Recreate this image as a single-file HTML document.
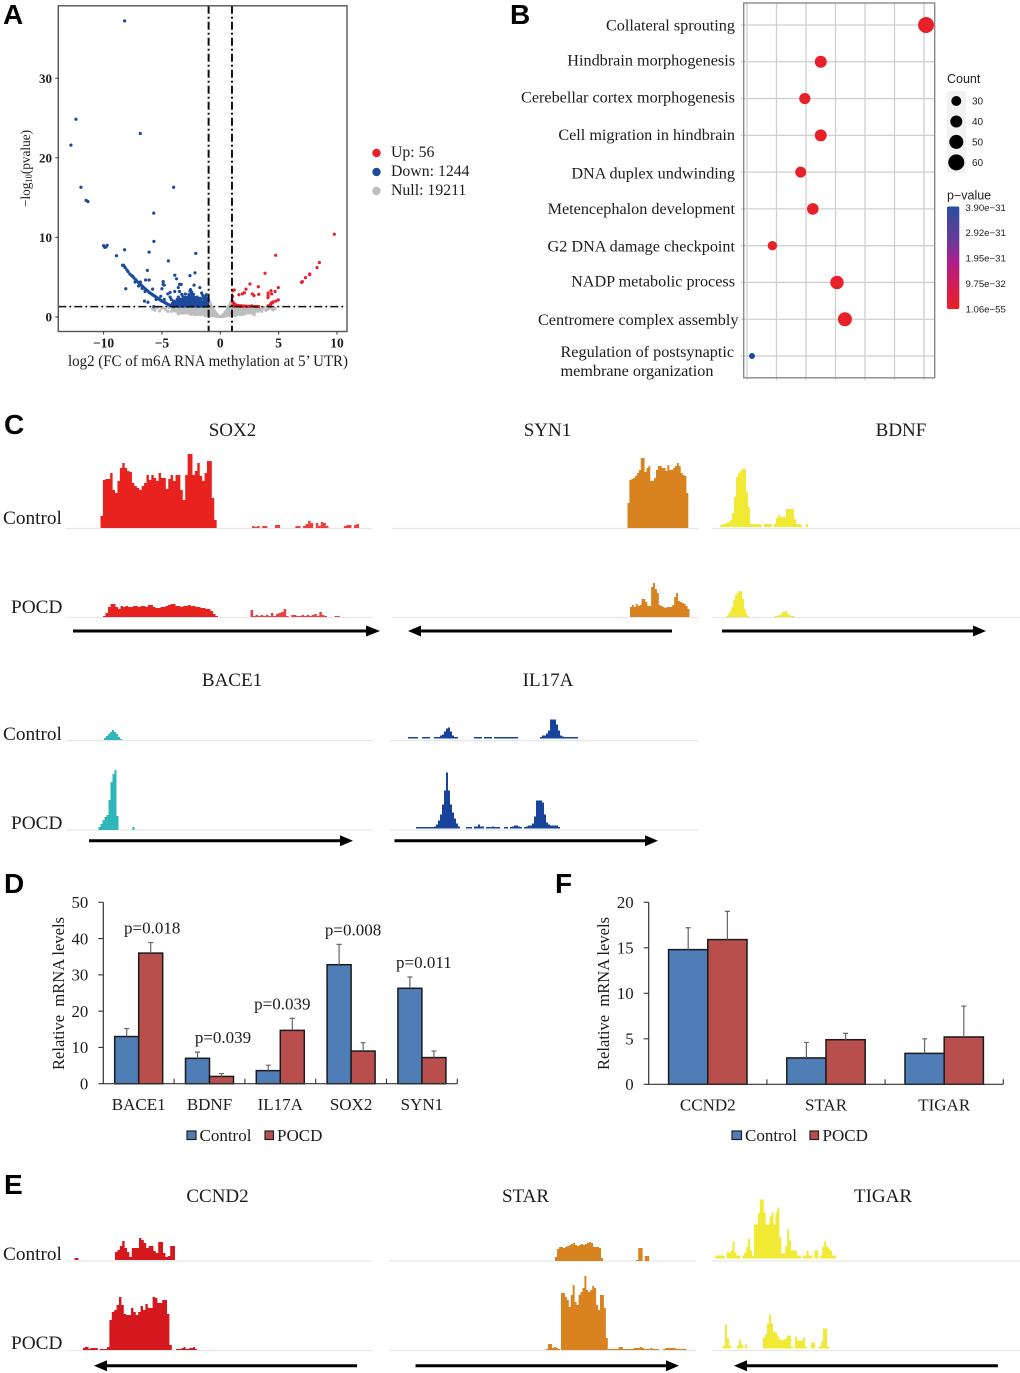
<!DOCTYPE html>
<html lang="en">
<head>
<meta charset="utf-8">
<title>m6A methylation figure panels</title>
<style>
html,body{margin:0;padding:0;background:#fff;}
svg{display:block;filter:blur(0.3px);}
text{font-family:"Liberation Serif",serif;fill:#1c1c1c;}
.letter{font-family:"Liberation Sans",sans-serif;font-weight:700;font-size:28px;fill:#000;}
.sans{font-family:"Liberation Sans",sans-serif;fill:#222;}
.gene{font-size:19px;text-anchor:middle;}
.cond{font-size:19.3px;}
.term{font-size:16.2px;}
.end{text-anchor:end;}
.leg{font-size:15.8px;}
</style>
</head>
<body>
<svg id="fig" width="1020" height="1373" viewBox="0 0 1020 1373" xmlns="http://www.w3.org/2000/svg">
<rect width="1020" height="1373" fill="#fff"/>

<text class="letter" x="3" y="24">A</text>
<text class="letter" x="510" y="24">B</text>
<text class="letter" x="4" y="434">C</text>
<text class="letter" x="4" y="893">D</text>
<text class="letter" x="555" y="893">F</text>
<text class="letter" x="4" y="1194">E</text>

<!-- Panel A -->
<g id="volcano"></g>
<text x="208" y="366" font-size="15.5" text-anchor="middle" textLength="280" lengthAdjust="spacingAndGlyphs">log2 (FC of m6A RNA methylation at 5’ UTR)</text>
<text transform="translate(30,207) rotate(-90)" font-size="14" textLength="77" lengthAdjust="spacingAndGlyphs">−log<tspan font-size="9" dy="2">10</tspan><tspan dy="-2">(pvalue)</tspan></text>
<g>
<circle cx="376.5" cy="153" r="4.2" fill="#e8202a"/>
<circle cx="376.5" cy="172" r="4.2" fill="#1c4a9c"/>
<circle cx="376.5" cy="191" r="4.2" fill="#bdbdbd"/>
<text class="leg" x="391" y="157">Up: 56</text>
<text class="leg" x="391" y="176">Down: 1244</text>
<text class="leg" x="391" y="195">Null: 19211</text>
</g>

<!-- Panel B -->
<g id="dotplot"></g>
<g>
<text class="term end" x="735" y="30.7">Collateral sprouting</text>
<text class="term end" x="735" y="65.7">Hindbrain morphogenesis</text>
<text class="term end" x="735" y="102.7">Cerebellar cortex morphogenesis</text>
<text class="term end" x="735" y="140">Cell migration in hindbrain</text>
<text class="term end" x="735" y="178.7">DNA duplex undwinding</text>
<text class="term end" x="735" y="214">Metencephalon development</text>
<text class="term end" x="735" y="251.7">G2 DNA damage checkpoint</text>
<text class="term end" x="735" y="286.7">NADP metabolic process</text>
<text class="term end" x="738.5" y="325">Centromere complex assembly</text>
<text class="term" x="560.5" y="357">Regulation of postsynaptic</text>
<text class="term" x="560.5" y="376">membrane organization</text>
</g>
<g>
<text class="sans" x="947" y="83" font-size="12.5">Count</text>
<rect x="947" y="91" width="19" height="82" fill="#f2f2f2"/>
</g>
<g id="countLegend"></g>
<g>
<defs><linearGradient id="pgrad" x1="0" y1="0" x2="0" y2="1"><stop offset="0" stop-color="#27509f"/><stop offset="0.33" stop-color="#6a3a97"/><stop offset="0.55" stop-color="#b01c8c"/><stop offset="0.8" stop-color="#d81e4c"/><stop offset="1" stop-color="#ec2025"/></linearGradient></defs>
<text class="sans" x="947" y="199.5" font-size="12.5">p−value</text>
<rect x="947" y="206.5" width="12.3" height="102.5" rx="1.5" fill="url(#pgrad)"/>
</g>
<g id="colorLegend"></g>

<!-- Gene titles and condition labels -->
<g>
<text class="gene" x="232.5" y="436">SOX2</text>
<text class="gene" x="547.5" y="436">SYN1</text>
<text class="gene" x="901" y="436">BDNF</text>
<text class="gene" x="232" y="686">BACE1</text>
<text class="gene" x="548" y="686">IL17A</text>
<text class="gene" x="217.5" y="1202">CCND2</text>
<text class="gene" x="525.5" y="1202">STAR</text>
<text class="gene" x="883" y="1202">TIGAR</text>
</g>
<g>
<text class="cond" x="3" y="524">Control</text>
<text class="cond" x="11" y="613">POCD</text>
<text class="cond" x="3" y="740">Control</text>
<text class="cond" x="11" y="829">POCD</text>
<text class="cond" x="3" y="1260">Control</text>
<text class="cond" x="11" y="1349">POCD</text>
</g>

<!-- Track baselines -->
<g stroke="#e6e6e6" stroke-width="1.2">
<path d="M66 528.5H372M392 528.5H699M712 528.5H1020M66 617.5H372M392 617.5H699M712 617.5H1020" fill="none"/>
<path d="M66 740.5H373M390 740.5H698M66 830H373M390 830H698" fill="none"/>
<path d="M66 1261H372M389 1261H696M712 1261H1020M66 1350.5H372M389 1350.5H696M712 1350.5H1020" fill="none"/>
</g>
<g id="tracks"></g>

<!-- Gene direction arrows -->
<g fill="#000">
<path d="M73 629.5H366V625.5L380 631L366 636.5V632.5H73Z"/>
<path d="M672 629.5H421V625.5L408 631L421 636.5V632.5H672Z"/>
<path d="M722 629.5H973V625.5L986 631L973 636.5V632.5H722Z"/>
<path d="M89 839.2H340V835.2L353 840.7L340 846.2V842.2H89Z"/>
<path d="M394.5 839.2H645V835.2L658 840.7L645 846.2V842.2H394.5Z"/>
<path d="M357 1364.2H107V1360.2L94 1365.7L107 1371.2V1367.2H357Z"/>
<path d="M415.5 1364.2H666V1360.2L679 1365.7L666 1371.2V1367.2H415.5Z"/>
<path d="M998 1364.2H747V1360.2L734 1365.7L747 1371.2V1367.2H998Z"/>
</g>

<!-- Panels D and F -->
<g id="barsD"></g>
<text transform="translate(64,1070) rotate(-90)" font-size="16.5" textLength="153" lengthAdjust="spacingAndGlyphs" xml:space="preserve">Relative  mRNA levels</text>
<g>
<rect x="187" y="1131" width="9" height="8.5" fill="#4f7db5" stroke="#222" stroke-width="1.2"/>
<text x="199.5" y="1141" font-size="17">Control</text>
<rect x="265" y="1131" width="8.5" height="8.5" fill="#b94f4d" stroke="#222" stroke-width="1.2"/>
<text x="277" y="1141" font-size="17">POCD</text>
</g>
<g id="barsF"></g>
<text transform="translate(609,1070) rotate(-90)" font-size="16.5" textLength="153" lengthAdjust="spacingAndGlyphs" xml:space="preserve">Relative  mRNA levels</text>
<g>
<rect x="732" y="1131" width="9.5" height="8.5" fill="#4f7db5" stroke="#222" stroke-width="1.2"/>
<text x="745" y="1141" font-size="17">Control</text>
<rect x="810" y="1131" width="8.5" height="8.5" fill="#b94f4d" stroke="#222" stroke-width="1.2"/>
<text x="822.5" y="1141" font-size="17">POCD</text>
</g>
</svg>

<script>
/* ---------- Panel A data: [log2FC, -log10(p)] ---------- */
const volcanoXTicks = [-10, -5, 0, 5, 10];
const volcanoYTicks = [0, 10, 20, 30];
const volcanoFcCutoff = 1;
const volcanoPCutoff = 1.3;

const downOutliers = [[-8.2,37.2],[-12.37,24.85],[-6.86,23.05],[-12.8,21.6],[-11.94,16.3],[-4,16.3],[-11.5,14.65],[-11.34,14.5],[-5.7,13.05],[-5.69,9.5],[-10,8.95],[-9.8,8.8],[-9.9,8.75],[-9.7,9],[-8.2,8.45],[-6.1,8.15],[-2.1,8],[-8.9,7.7],[-4.45,7.05],[-8.37,6.5],[-8.25,6.4],[-6.25,5.85],[-2.17,5.55],[-3.9,5.25],[-2.6,5.2],[-3.75,4.8],[-6.4,4.65],[-6.1,4.65],[-4.9,4.45],[-8.1,3.55],[-4.9,4.1],[-4.8,4.0],[-3.5,4.1],[-3.35,4.1],[-2.25,4],[-1.75,3.7],[-3.6,3.7],[-5.8,3.5],[-5,3.55],[-2.55,3.45],[-6.5,2],[-6.2,1.85],[-5.7,1.3]];
const downCurve = [[-8.3,6.5],[-8.15,6.2],[-8,5.9],[-7.9,5.7],[-7.75,5.4],[-7.6,5.2],[-7.5,5.1],[-7.4,4.9],[-7.25,4.7],[-7.15,4.5],[-7,4.3],[-6.9,4.2],[-6.8,4.05],[-6.7,3.9],[-6.6,3.75],[-6.5,3.6],[-6.4,3.5],[-6.3,3.35],[-6.2,3.25],[-6.1,3.1],[-6,3],[-5.9,2.9],[-5.8,2.8],[-5.7,2.7],[-5.6,2.6],[-5.5,2.5],[-5.4,2.4],[-5.3,2.3],[-5.2,2.2],[-5.1,2.1],[-5,2],[-4.9,1.93],[-4.8,1.85],[-4.7,1.77],[-4.6,1.68],[-4.5,1.6],[-4.4,1.52],[-4.3,1.46],[-4.2,1.4],[-4.1,1.35],[-4,1.3],[-7,3.9],[-6.7,3.6],[-6.45,3.2],[-6.85,4.4],[-7.3,4.4]];
const downCluster = [
[-4.0,1.35],[-3.8,1.38],[-3.6,1.33],[-3.4,1.36],[-3.2,1.34],[-3.0,1.38],[-2.8,1.33],[-2.6,1.36],[-2.4,1.34],[-2.2,1.38],[-2.0,1.35],[-1.8,1.33],[-1.6,1.36],[-1.4,1.34],[-1.2,1.37],[-1.05,1.35],
[-3.9,1.62],[-3.7,1.58],[-3.5,1.64],[-3.3,1.6],[-3.1,1.57],[-2.9,1.63],[-2.7,1.6],[-2.5,1.58],[-2.3,1.64],[-2.1,1.6],[-1.9,1.57],[-1.7,1.63],[-1.5,1.6],[-1.3,1.58],[-1.1,1.62],
[-3.8,1.92],[-3.6,1.88],[-3.4,1.94],[-3.2,1.9],[-3.0,1.87],[-2.8,1.93],[-2.6,1.9],[-2.4,1.88],[-2.2,1.94],[-2.0,1.9],[-1.8,1.87],[-1.6,1.93],[-1.4,1.9],[-1.2,1.88],[-1.05,1.92],
[-3.7,2.2],[-3.45,2.25],[-3.25,2.18],[-3.0,2.22],[-2.75,2.2],[-2.55,2.26],[-2.35,2.18],[-2.15,2.22],[-1.9,2.2],[-1.65,2.25],[-1.35,2.18],[-1.15,2.22],
[-3.6,2.5],[-3.2,2.55],[-2.95,2.48],[-2.7,2.52],[-2.45,2.56],[-2.25,2.48],[-2.0,2.5],[-1.3,2.55],
[-3.3,2.85],[-3.0,2.9],[-2.7,2.82],[-2.5,2.88],[-2.3,2.84],
[-3.5,3.2],[-2.6,3.25],[-2.45,3.15],
[-4.5,2.9],[-4.3,2.5],[-4.2,2.2],[-4.8,2.2],[-5.1,2.6],[-4.3,3.1],[-3.9,3.2],[-5.5,2.2],[-4.0,2.0],[-4.1,1.7],[-1.5,2.7],[-1.2,2.8],[-1.6,3.0],
[-3.5,2.05],[-3.1,2.08],[-2.7,2.04],[-2.3,2.06],[-1.75,2.05],[-1.25,2.08],[-3.15,2.38],[-2.85,2.36],[-2.6,2.4],[-2.4,2.35],[-2.05,2.38],[-1.75,2.36],[-1.45,2.4],[-1.1,2.38]
];
const upPoints = [[9.77,10.4],[4.74,7.75],[8.49,6.85],[8.29,6.2],[7.66,5.4],[7.66,5.3],[7.3,4.95],[6.97,4.35],[7.03,4.45],[3.83,5.5],[2.54,4.15],[3.26,3.8],[2.2,3.5],[1.2,3.4],[1.06,3.3],[4.97,3.7],[4.69,3.2],[4.34,3.3],[4.4,2.9],[2.06,3.05],[1.89,2.9],[1.6,2.8],[2.74,2.9],[2.89,2.7],[3.29,2.85],[4.1,3],[4.1,2.65],[4.09,2.45],[4.97,2.15],[4.77,2],[4.54,1.9],[4.4,1.8],[4.31,1.6],[4.1,1.4],[1.06,2.6],[1.15,1.75],[1.25,1.6],[1.35,1.5],[1.5,1.45],[1.65,1.4],[1.8,1.42],[2.0,1.38],[2.2,1.36],[2.5,1.35],[2.7,1.4],[3.1,1.32],[1.1,1.35],[1.4,1.35],[1.7,1.33],[1.95,1.33],[2.35,1.33],[2.9,1.33],[3.3,1.31],[4.3,1.35],[4.45,1.75],[1.05,1.95]];
const nullPoints = [
[-3.85,1.2],[-3.6,1.18],[-3.35,1.22],[-3.1,1.19],[-2.85,1.2],[-2.6,1.17],[-2.35,1.21],[-2.1,1.2],[-1.85,1.18],[-1.6,1.22],[-1.35,1.19],[-1.1,1.2],[1.1,1.2],[1.35,1.18],[1.6,1.22],[1.85,1.19],[2.1,1.2],[2.35,1.17],[2.6,1.21],[2.85,1.2],[3.1,1.18],[3.3,1.22],
[-3.9,0.95],[-3.65,0.92],[-3.4,0.97],[-3.15,0.94],[-2.9,0.95],[-2.65,0.92],[-2.4,0.96],[-2.15,0.94],[-1.9,0.95],[-1.65,0.93],[-1.4,0.96],[-1.15,0.94],[-0.95,0.95],[0.95,0.95],[1.15,0.93],[1.4,0.96],[1.65,0.94],[1.9,0.95],[2.15,0.92],[2.4,0.96],[2.65,0.94],[2.9,0.95],[3.15,0.93],[3.4,0.96],
[-3.75,0.7],[-3.5,0.68],[-3.25,0.72],[-3,0.69],[-2.75,0.7],[-2.5,0.67],[-2.25,0.71],[-2,0.7],[-1.75,0.68],[-1.5,0.72],[-1.25,0.69],[-1,0.7],[-0.8,0.72],[0.8,0.72],[1,0.7],[1.25,0.69],[1.5,0.72],[1.75,0.68],[2,0.7],[2.25,0.71],[2.5,0.67],[2.75,0.7],[3,0.69],[3.25,0.72],
[-3.4,0.5],[-3.15,0.48],[-2.9,0.52],[-2.65,0.49],[-2.4,0.5],[-2.15,0.47],[-1.9,0.51],[-1.65,0.5],[-1.4,0.48],[-1.15,0.52],[-0.95,0.49],[-0.7,0.5],[0.7,0.5],[0.95,0.49],[1.15,0.52],[1.4,0.48],[1.65,0.5],[1.9,0.51],[2.15,0.47],[2.4,0.5],[2.65,0.49],[2.9,0.52],
[-2.5,0.32],[-2.2,0.3],[-1.95,0.33],[-1.7,0.28],[-1.4,0.3],[-1.15,0.32],[-0.9,0.3],[-0.65,0.28],[-0.45,0.3],[0.45,0.3],[0.65,0.28],[0.9,0.3],[1.15,0.32],[1.4,0.3],[1.7,0.28],[1.95,0.33],
[-1.0,2.25],[-0.95,1.95],[-0.9,1.75],[-0.85,1.6],[-0.78,1.4],[-0.72,1.25],[-0.66,1.05],[-0.6,0.95],[-0.5,0.75],[-0.4,0.55],[-0.3,0.35],[-0.2,0.2],[-0.1,0.08],[0,0.03],[0.1,0.08],[0.2,0.2],[0.3,0.35],[0.4,0.55],[0.5,0.75],[0.6,0.95],[0.66,1.05],[0.72,1.25],[0.78,1.4],[0.85,1.6],[0.9,1.75],[0.95,1.95],[1.0,2.25],
[-0.9,1.35],[-0.82,1.2],[-0.75,1.0],[-0.6,0.65],[-0.35,0.2],[-0.18,0.08],[0.18,0.08],[0.35,0.2],[0.6,0.65],[0.75,1.0],[0.82,1.2],[0.9,1.35],
[-5.8,1.0],[-5.6,0.85],[-5.4,1.2],[-5,1.1],[-4.7,0.95],[-4.4,1.2],[-4.2,0.7],[3.6,1],[3.9,0.85],[4.2,1.1],[4.5,0.9],[-3.6,0.4],[2.9,0.3]
];
const nullPointsExtra = [
[-3.7,1.08],[-3.45,1.06],[-3.2,1.1],[-2.95,1.07],[-2.7,1.05],[-2.45,1.09],[-2.2,1.07],[-1.95,1.05],[-1.7,1.09],[-1.45,1.07],[-1.2,1.05],[-0.97,1.08],[0.97,1.08],[1.2,1.05],[1.45,1.07],[1.7,1.09],[1.95,1.05],[2.2,1.07],[2.45,1.09],[2.7,1.05],[2.95,1.07],[3.2,1.1],
[-3.3,0.82],[-3.05,0.84],[-2.8,0.8],[-2.55,0.83],[-2.3,0.81],[-2.05,0.84],[-1.8,0.8],[-1.55,0.83],[-1.3,0.81],[-1.05,0.84],[-0.85,0.82],[0.85,0.82],[1.05,0.84],[1.3,0.81],[1.55,0.83],[1.8,0.8],[2.05,0.84],[2.3,0.81],[2.55,0.83],[2.8,0.8],[3.05,0.84],
[-2.85,0.6],[-2.6,0.58],[-2.35,0.62],[-2.1,0.59],[-1.85,0.6],[-1.6,0.57],[-1.35,0.61],[-1.1,0.6],[-0.85,0.58],[0.85,0.58],[1.1,0.6],[1.35,0.61],[1.6,0.57],[1.85,0.6],[2.1,0.59],[2.35,0.62],[2.6,0.58],
[-2.1,0.41],[-1.85,0.38],[-1.6,0.42],[-1.3,0.4],[-1.05,0.38],[-0.8,0.41],[-0.55,0.4],[0.55,0.4],[0.8,0.41],[1.05,0.38],[1.3,0.4],[1.6,0.42],[1.85,0.38],[2.1,0.41],
[-1.3,0.18],[-1.05,0.2],[-0.8,0.17],[-0.55,0.16],[-0.35,0.1],[-0.2,0.06],[0.2,0.06],[0.35,0.1],[0.55,0.16],[0.8,0.17],[1.05,0.2],[1.3,0.18],
[-0.98,1.55],[-1.02,1.8],[-1.05,1.45],[-0.92,1.15],[0.92,1.15],[1.02,1.8],[1.05,1.45],[0.98,1.55],[-0.5,0.4],[-0.7,0.85],[0.5,0.4],[0.7,0.85],
[-5.2,0.75],[-4.9,1.2],[-4.5,0.7],[-4.1,1.05],[-3.95,0.8],[-5.7,1.2],[3.75,1.2],[4.05,0.95],[3.55,0.72],[4.35,1.2],[4.7,1.05]
];

/* ---------- Panel B data ---------- */
const termRows = ["Collateral sprouting","Hindbrain morphogenesis","Cerebellar cortex morphogenesis","Cell migration in hindbrain","DNA duplex undwinding","Metencephalon development","G2 DNA damage checkpoint","NADP metabolic process","Centromere complex assembly","Regulation of postsynaptic membrane organization"];
const termEnrichment = [6.07, 2.5, 1.96, 2.5, 1.82, 2.23, 0.86, 3.05, 3.32, 0.17];
const termCounts = [60, 40, 36, 40, 35, 38, 27, 47, 50, 10];
const termIsHighP = [false, false, false, false, false, false, false, false, false, true];
const enrichmentGridTicks = [0, 1, 2, 3, 4, 5, 6];
const countLegendValues = [30, 40, 50, 60];
const pLegendLabels = ["3.90e−31", "2.92e−31", "1.95e−31", "9.75e−32", "1.06e−55"];

/* ---------- Coverage track bin heights ---------- */
const sox2Control = [12,48,49,49,55,38,35,47,60,65,60,57,56,45,42,40,38,42,45,53,48,53,50,47,55,50,50,39,49,53,47,53,53,38,28,53,74,74,53,57,65,52,47,55,67,67,30,8];
const sox2ControlTail = [2,1,2,0,2,2,0,0,0,3,3,0,0,0,0,0,0,2,2,0,2,4,7,5,0,5,2,6,5,2,0,0,0,0,0,0,2,3,3,0,3,4];
const sox2Pocd = [1,4,10,13,13,10,8,11,10,11,10,10,11,11,10,11,11,10,12,12,10,9,9,10,10,11,12,13,13,11,11,10,11,11,12,11,11,10,10,9,9,8,8,6,3,1];
const sox2PocdTail = [7,1,2,1,2,1,2,1,4,1,3,4,5,8,1,0,2,2,1,1,2,1,2,1,2,3,1,5,2,1,0,0,0,1,1];
const syn1Control = [25,48,49,50,52,55,58,70,70,56,60,62,47,47,50,58,62,62,60,60,57,63,58,58,60,62,65,62,55,53,52,35];
const syn1Pocd = [10,12,10,13,11,12,18,18,15,11,11,30,34,28,24,12,11,10,9,10,10,10,12,20,24,16,15,14,13,11,8];
const bdnfControl = [2,3,3,4,5,7,14,30,50,54,56,58,58,35,20,3,3,3,3,3,2,0,3,3,3,3,0,3,9,12,10,10,10,18,18,18,18,8,3,3,2,0,0,3];
const bdnfPocd = [1,3,6,10,17,22,24,26,26,18,8,3,1,0,0,0,0,0,0,0,0,0,0,0,0,0,0,1,1,2,2,5,5,6,3,2,1,1];
const bace1Control = [2,4,6,8,10,8,6,3,1];
const bace1Pocd = [3,6,10,13,15,30,48,56,60,14,0,0,0,0,0,0,0,3];
const il17aControl = [0,1.5,1.5,1.5,1.5,1.5,0,0,1.5,1.5,1.5,1.5,0,0,1.5,1.5,1.5,3,4,7,10,11,7,3,1.5,1.5,0,0,0,0,0,0,0,0,1.5,1.5,1.5,1.5,0,1.5,1.5,1.5,1.5,0,1.5,1.5,1.5,1.5,1.5,1.5,1.5,1.5,1.5,1.5,1.5,1.5,0,0,0,0,0,0,0,0,0,0,0,1.5,3,3,5,8,19,19,19,14,8,3,2,1.5,1.5,1.5,1.5,1.5,1.5,1.5];
const il17aPocd = [1.5,1.5,1.5,1.5,1.5,1.5,1.5,1.5,1.5,2,4,8,14,24,38,56,38,24,16,10,5,2,0,0,0,1.5,1.5,1.5,0,2,2,4,2,2,0,1.5,1.5,1.5,2,1.5,1.5,1.5,0,0,1.5,1.5,0,1.5,2,3,3,2,1.5,0,1.5,2,3,3,5,12,28,28,28,26,14,6,4,3,3,3,3,1.5];
const ccnd2Control = [8,10,14,19,12,8,3,12,12,12,22,20,17,12,14,14,9,7,18,18,7,3,4,14,14];
const ccnd2ControlBlip = [2,2];
const ccnd2Pocd = [3,30,38,40,45,53,45,36,35,35,42,38,35,38,44,40,46,42,42,53,52,47,47,50,50,36,5];
const ccnd2PocdLeft = [2,3,3,1,2,2,2,2,0,1,1,1,1];
const ccnd2PocdRight = [1,1,1,2,3,1,1,2,2,3,1];
const starControl = [4,12,14,14,13,14,15,16,17,18,16,15,16,17,16,17,18,19,18,14,14,14,13,3];
const starControlBlip = [1,13,13,0,5,5];
const starPocd = [57,57,53,50,43,55,65,48,45,55,58,62,74,60,58,60,64,62,45,40,55,55,42,12];
const starPocdLeft = [1,6,6,2,3,2,1];
const starPocdTail = [1,1,1,1,1,3,3,1,1,1,1,1,2,2,2,3,2,1,1,1,2,1,1,1,0,0,1,2,2,2,2,2,1,1,1,1,1];
const tigarControl = [3,3,3,3,3,0,6,6,8,17,6,3,3,0,3,6,12,20,8,3,34,34,45,59,59,46,34,34,42,46,34,46,51,21,5,5,12,29,18,8,8,8,3,3,0,3,3,8,3,3,0,8,8,0,3,12,17,12,10,8,3,3];
const tigarPocd = [3,24,10,3,0,0,0,3,9,4,0,4,0,0,0,0,0,0,0,0,11,14,25,34,25,17,16,12,9,8,9,10,13,13,2,0,12,8,8,8,11,2,0,0,6,6,0,0,2,7,20,20,2];

/* ---------- Panel D data ---------- */
const dCategories = ["BACE1","BDNF","IL17A","SOX2","SYN1"];
const dControl = [13, 7, 3.6, 32.8, 26.3];
const dPocd = [36, 2, 14.7, 9, 7.2];
const dControlErr = [2.2, 1.7, 1.5, 5.6, 3.1];
const dPocdErr = [2.9, 0.8, 3.3, 2.3, 1.8];
const dPValues = ["p=0.018","p=0.039","p=0.039","p=0.008","p=0.011"];
const dYTicks = [0, 10, 20, 30, 40, 50];

/* ---------- Panel F data ---------- */
const fCategories = ["CCND2","STAR","TIGAR"];
const fControl = [14.8, 2.9, 3.4];
const fPocd = [15.9, 4.9, 5.2];
const fControlErr = [2.4, 1.7, 1.6];
const fPocdErr = [3.1, 0.7, 3.4];
const fYTicks = [0, 5, 10, 15, 20];

/* ---------- Helpers ---------- */
const NS = "http://www.w3.org/2000/svg";
function mk(tag, attrs, parent, txt) {
  const n = document.createElementNS(NS, tag);
  for (const k in attrs) n.setAttribute(k, attrs[k]);
  if (txt !== undefined) n.textContent = txt;
  parent.appendChild(n);
  return n;
}
function slug(s) { return String(s).toLowerCase().replace(/[^a-z0-9]+/g, '-'); }

/* ---------- Panel A ---------- */
(function () {
  const g = document.getElementById('volcano');
  const sx = v => 220.3 + v * 11.67;
  const sy = v => 317 - v * 7.96;
  const plotL = 58.3, plotR = 347, plotT = 5.8, plotB = 331.5;

  function dots(list, color, r, name) {
    list.forEach(p => {
      const c = mk('circle', {cx: sx(p[0]), cy: sy(p[1]), r: r, fill: color}, g);
      
      
    });
  }
  dots(nullPoints, '#bdbdbd', 1.6, 'null-point');
  dots(nullPointsExtra, '#bdbdbd', 1.6, 'null-point');
  dots(downCluster, '#1c4a9c', 1.6, 'down-point');
  dots(downCurve, '#1c4a9c', 1.6, 'down-point');
  dots(downOutliers, '#1c4a9c', 1.6, 'down-point');
  dots(upPoints, '#e8202a', 1.6, 'up-point');

  [-volcanoFcCutoff, volcanoFcCutoff].forEach(v => {
    const l = mk('line', {x1: sx(v), x2: sx(v), y1: plotT, y2: plotB, stroke: '#111', 'stroke-width': 2, 'stroke-dasharray': '8 3 2 3'}, g);
    
    
  });
  const h = mk('line', {x1: plotL, x2: plotR, y1: sy(volcanoPCutoff), y2: sy(volcanoPCutoff), stroke: '#111', 'stroke-width': 1.5, 'stroke-dasharray': '8 3 2 3'}, g);
  
  

  const box = mk('rect', {x: plotL, y: plotT, width: plotR - plotL, height: plotB - plotT, fill: 'none', stroke: '#555', 'stroke-width': 1.4}, g);
  
  

  volcanoXTicks.forEach(v => {
    const t = mk('line', {x1: sx(v), x2: sx(v), y1: plotB, y2: plotB + 3, stroke: '#333', 'stroke-width': 1}, g);
    
    
    const l = mk('text', {x: sx(v), y: 347.3, 'text-anchor': 'middle', 'font-size': 13.5, 'font-weight': 700}, g, String(v).replace('-', '−'));
    
    
  });
  volcanoYTicks.forEach(v => {
    const t = mk('line', {x1: plotL - 3, x2: plotL, y1: sy(v), y2: sy(v), stroke: '#333', 'stroke-width': 1}, g);
    
    
    const l = mk('text', {x: 52, y: sy(v) + 4.6, 'text-anchor': 'end', 'font-size': 13, 'font-weight': 700}, g, String(v));
    
    
  });
})();

/* ---------- Panel B ---------- */
(function () {
  const g = document.getElementById('dotplot');
  const sx = v => 747 + v * 29.5;
  const rowY = i => 25 + i * 36.78;
  const sr = c => Math.max(3, 5 + (c - 30) * 0.1);
  const L = 743.7, R = 934.7, T = 3, B = 377.8;

  enrichmentGridTicks.forEach(v => {
    const l = mk('line', {x1: sx(v), x2: sx(v), y1: T, y2: B + 2.5, stroke: '#cfcfcf', 'stroke-width': 1.3}, g);
    
    
  });
  termRows.forEach((name, i) => {
    const l = mk('line', {x1: L - 3, x2: R, y1: rowY(i), y2: rowY(i), stroke: '#cfcfcf', 'stroke-width': 1.3}, g);
    
    
  });
  const f = mk('rect', {x: L, y: T, width: R - L, height: B - T, fill: 'none', stroke: '#8a8a8a', 'stroke-width': 1.4}, g);
  
  
  termRows.forEach((name, i) => {
    const c = mk('circle', {cx: sx(termEnrichment[i]), cy: rowY(i), r: sr(termCounts[i]), fill: termIsHighP[i] ? '#1c4a9c' : '#e8202a'}, g);
    
    
  });

  const cl = document.getElementById('countLegend');
  countLegendValues.forEach((v, i) => {
    const y = 101 + i * 20.45;
    const c = mk('circle', {cx: 956.3, cy: y, r: sr(v), fill: '#000'}, cl);
    
    
    const t = mk('text', {x: 972, y: y + 3.6, 'font-size': 10, 'class': 'sans'}, cl, String(v));
    
    
  });
  const pl = document.getElementById('colorLegend');
  pLegendLabels.forEach((s, i) => {
    const t = mk('text', {x: 965.5, y: 207.3 + i * 25.4 + 3.5, 'font-size': 9.6, 'class': 'sans'}, pl, s);
    
    
  });
})();

/* ---------- Coverage tracks ---------- */
const trackHost = document.getElementById('tracks');
function drawTrack(values, startX, binW, baseY, color, name) {
  let d = '', open = false;
  values.forEach((v, i) => {
    const x0 = startX + i * binW, x1 = x0 + binW;
    if (v > 0) {
      if (!open) { d += 'M' + x0 + ' ' + baseY; open = true; }
      d += 'L' + x0 + ' ' + (baseY - v) + 'L' + x1 + ' ' + (baseY - v);
    }
    if (open && (i === values.length - 1 || !(values[i + 1] > 0))) {
      d += 'L' + x1 + ' ' + baseY + 'Z';
      open = false;
    }
  });
  const p = mk('path', {d: d, fill: color}, trackHost);
  
  
}
const RED = '#e8231f', RED2 = '#ee4040', ORANGE = '#d98220', YEL = '#f0ea35', TEAL = '#2fb6b8', NAVY = '#17449a', CRED = '#d5181d';
drawTrack(sox2Control, 100.5, 2.42, 528, RED, 'track-sox2-control');
drawTrack(sox2ControlTail, 252, 2.55, 528, RED2, 'track-sox2-control-tail');
drawTrack(sox2Pocd, 103, 2.5, 617, RED, 'track-sox2-pocd');
drawTrack(sox2PocdTail, 250.5, 2.55, 617, RED2, 'track-sox2-pocd-tail');
drawTrack(syn1Control, 627.5, 1.9, 528, ORANGE, 'track-syn1-control');
drawTrack(syn1Pocd, 630, 1.92, 617, ORANGE, 'track-syn1-pocd');
drawTrack(bdnfControl, 720, 2, 527, YEL, 'track-bdnf-control');
drawTrack(bdnfPocd, 726, 1.8, 617, YEL, 'track-bdnf-pocd');
drawTrack(bace1Control, 104, 2, 740, TEAL, 'track-bace1-control');
drawTrack(bace1Pocd, 98.5, 2, 830, TEAL, 'track-bace1-pocd');
drawTrack(il17aControl, 406, 2, 738.5, NAVY, 'track-il17a-control');
drawTrack(il17aPocd, 416, 2, 828.5, NAVY, 'track-il17a-pocd');
drawTrack(ccnd2Control, 115, 2.4, 1260, CRED, 'track-ccnd2-control');
drawTrack(ccnd2ControlBlip, 74.5, 2, 1260, CRED, 'track-ccnd2-control-blip');
drawTrack(ccnd2Pocd, 107, 2.4, 1350, CRED, 'track-ccnd2-pocd');
drawTrack(ccnd2PocdLeft, 83, 1.85, 1350, CRED, 'track-ccnd2-pocd-left');
drawTrack(ccnd2PocdRight, 176, 1.9, 1350, CRED, 'track-ccnd2-pocd-right');
drawTrack(starControl, 555, 2, 1261, ORANGE, 'track-star-control');
drawTrack(starControlBlip, 636, 2.2, 1261, ORANGE, 'track-star-control-blip');
drawTrack(starPocd, 561, 1.95, 1350, ORANGE, 'track-star-pocd');
drawTrack(starPocdLeft, 546, 2, 1350, ORANGE, 'track-star-pocd-left');
drawTrack(starPocdTail, 608, 2.12, 1350, ORANGE, 'track-star-pocd-tail');
drawTrack(tigarControl, 715, 1.95, 1258.5, YEL, 'track-tigar-control');
drawTrack(tigarPocd, 723, 2, 1348.5, YEL, 'track-tigar-pocd');

/* ---------- Bar charts D and F ---------- */
function drawBars(host, o) {
  const g = document.getElementById(host);
  const sy = v => o.y0 - v * o.pxPerUnit;
  const catW = (o.xEnd - o.xStart) / o.categories.length;
  const barW = o.barW;
  const prefix = o.prefix;

  o.categories.forEach((cat, i) => {
    const cx = o.xStart + catW * (i + 0.5);
    const cBar = mk('rect', {x: cx - barW, y: sy(o.control[i]), width: barW, height: o.y0 - sy(o.control[i]), fill: '#4f7db5', stroke: '#1a1a1a', 'stroke-width': 1.5}, g);
    
    
    const pBar = mk('rect', {x: cx, y: sy(o.pocd[i]), width: barW, height: o.y0 - sy(o.pocd[i]), fill: '#b94f4d', stroke: '#1a1a1a', 'stroke-width': 1.5}, g);
    
    

    [[cx - barW / 2, o.control[i], o.controlErr[i]], [cx + barW / 2, o.pocd[i], o.pocdErr[i]]].forEach(e => {
      const top = sy(e[1] + e[2]);
      const eb = mk('path', {d: 'M' + e[0] + ' ' + sy(e[1]) + 'V' + top + 'M' + (e[0] - 2.5) + ' ' + top + 'H' + (e[0] + 2.5), fill: 'none', stroke: '#666', 'stroke-width': 1.2}, g);
      
      
    });

    const lab = mk('text', {x: cx, y: o.catLabelY, 'text-anchor': 'middle', 'font-size': 17}, g, cat);
    
    

    if (o.pValues) {
      const topVal = Math.max(o.control[i] + o.controlErr[i], o.pocd[i] + o.pocdErr[i]);
      const shift = i < 2 ? 13.5 : 2;
      const pl = mk('text', {x: cx + shift, y: sy(topVal) - 9, 'text-anchor': 'middle', 'font-size': 17}, g, o.pValues[i]);
      
      
    }

    const tk = mk('line', {x1: o.xStart + catW * (i + 1), x2: o.xStart + catW * (i + 1), y1: o.y0 - 5, y2: o.y0, stroke: '#333', 'stroke-width': 1.1}, g);
    
    
  });

  o.ticks.forEach(v => {
    const tk = mk('line', {x1: o.xStart - 5, x2: o.xStart, y1: sy(v), y2: sy(v), stroke: '#333', 'stroke-width': 1.1}, g);
    
    
    const l = mk('text', {x: o.xStart - 15, y: sy(v) + 5.8, 'text-anchor': 'end', 'font-size': 16.8}, g, String(v));
    
    
  });

  const ax = mk('path', {d: 'M' + o.xStart + ' ' + sy(o.ticks[o.ticks.length - 1]) + 'V' + o.y0 + 'H' + o.xEnd, fill: 'none', stroke: '#333', 'stroke-width': 1.2}, g);
  
  
}
drawBars('barsD', {prefix: 'd', categories: dCategories, control: dControl, pocd: dPocd, controlErr: dControlErr, pocdErr: dPocdErr, pValues: dPValues, ticks: dYTicks, y0: 1083.7, pxPerUnit: 3.628, xStart: 103.3, xEnd: 457.3, barW: 24, catLabelY: 1110});
drawBars('barsF', {prefix: 'f', categories: fCategories, control: fControl, pocd: fPocd, controlErr: fControlErr, pocdErr: fPocdErr, pValues: null, ticks: fYTicks, y0: 1084.3, pxPerUnit: 9.1, xStart: 648.7, xEnd: 1003.3, barW: 39.2, catLabelY: 1110.7});
</script>
</body>
</html>
